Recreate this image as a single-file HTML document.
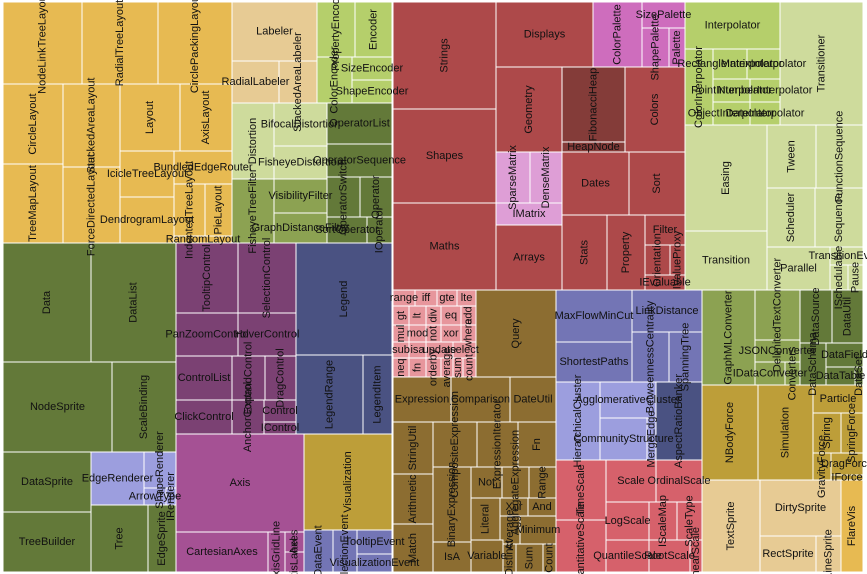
<!DOCTYPE html>
<html><head><meta charset="utf-8"><style>
html,body{margin:0;padding:0;background:#fff;width:867px;height:574px;overflow:hidden}
svg{display:block}
text{font-family:"Liberation Sans",sans-serif;font-size:11px;fill:#111}
</style></head><body>
<svg id="tm" width="867" height="574" viewBox="0 0 867 574">
<g id="rects"></g>
<g id="labels"></g>
</svg>
<script>
// Each cell: label, left, top, right, bottom, group colour
const cells=[
["NodeLinkTreeLayout",3,2,82,84,"#E7BA52"],["RadialTreeLayout",82,2,158,84,"#E7BA52"],["CirclePackingLayout",158,2,232,84,"#E7BA52"],
["CircleLayout",3,84,63,164,"#E7BA52"],["TreeMapLayout",3,164,63,243,"#E7BA52"],
["StackedAreaLayout",63,84,120,167,"#E7BA52"],["ForceDirectedLayout",63,167,120,243,"#E7BA52"],
["Layout",120,84,180,151,"#E7BA52"],["AxisLayout",180,84,232,151,"#E7BA52"],
["IcicleTreeLayout",120,151,174,197,"#E7BA52"],["DendrogramLayout",120,197,174,243,"#E7BA52"],
["BundledEdgeRouter",174,151,232,184,"#E7BA52"],["IndentedTreeLayout",174,184,205,236,"#E7BA52"],["PieLayout",205,184,232,236,"#E7BA52"],["RandomLayout",174,236,232,243,"#E7BA52"],
["Labeler",232,2,317,61,"#E7CB94"],["RadialLabeler",232,61,279,103,"#E7CB94"],["StackedAreaLabeler",279,61,317,103,"#E7CB94"],
["PropertyEncoder",317,2,355,57,"#B5CF6B"],["Encoder",355,2,392,57,"#B5CF6B"],["ColorEncoder",317,57,352,103,"#B5CF6B"],["SizeEncoder",352,57,392,80,"#B5CF6B"],["ShapeEncoder",352,80,392,103,"#B5CF6B"],
["Distortion",232,103,274,179,"#CEDB9C"],["BifocalDistortion",274,103,327,146,"#CEDB9C"],["FisheyeDistortion",274,146,327,179,"#CEDB9C"],
["FisheyeTreeFilter",232,179,274,243,"#8CA252"],["VisibilityFilter",274,179,327,213,"#8CA252"],["GraphDistanceFilter",274,213,327,243,"#8CA252"],
["OperatorList",327,103,392,144,"#637939"],["OperatorSequence",327,144,392,177,"#637939"],["OperatorSwitch",327,177,360,217,"#637939"],["Operator",360,177,392,217,"#637939"],["SortOperator",327,217,367,243,"#637939"],["IOperator",367,217,392,243,"#637939"],
["Data",3,243,91,362,"#637939"],["DataList",91,243,176,362,"#637939"],["NodeSprite",3,362,112,452,"#637939"],["ScaleBinding",112,362,176,452,"#637939"],["DataSprite",3,452,91,512,"#637939"],["TreeBuilder",3,512,91,572,"#637939"],
["EdgeRenderer",91,452,144,505,"#9C9EDE"],["ShapeRenderer",144,452,176,488,"#9C9EDE"],["ArrowType",144,488,166,505,"#9C9EDE"],["IRenderer",166,488,176,505,"#9C9EDE"],
["Tree",91,505,148,572,"#637939"],["EdgeSprite",148,505,176,572,"#637939"],
["TooltipControl",176,243,238,313,"#7B4173"],["SelectionControl",238,243,296,313,"#7B4173"],["PanZoomControl",176,313,238,356,"#7B4173"],["HoverControl",238,313,296,356,"#7B4173"],
["ControlList",176,356,232,400,"#7B4173"],["ClickControl",176,400,232,434,"#7B4173"],["ExpandControl",232,356,265,400,"#7B4173"],["DragControl",265,356,296,400,"#7B4173"],["AnchorControl",232,400,264,434,"#7B4173"],["Control",264,400,296,422,"#7B4173"],["IControl",264,422,296,434,"#7B4173"],
["Legend",296,243,392,355,"#4A5282"],["LegendRange",296,355,363,434,"#4A5282"],["LegendItem",363,355,392,434,"#4A5282"],
["Axis",176,434,304,532,"#A55194"],["CartesianAxes",176,532,268,572,"#A55194"],["AxisGridLine",268,532,285,572,"#A55194"],["Axes",285,532,304,552,"#A55194"],["AxisLabel",285,552,304,572,"#A55194"],
["Visualization",304,434,392,530,"#BD9E39"],["DataEvent",304,530,333,572,"#7375B5"],["SelectionEvent",333,530,357,572,"#7375B5"],["TooltipEvent",357,530,392,554,"#7375B5"],["VisualizationEvent",357,554,392,572,"#7375B5"],
["Strings",393,2,496,109,"#AD494A"],["Shapes",393,109,496,203,"#AD494A"],["Maths",393,203,496,290,"#AD494A"],
["Displays",496,2,593,67,"#AD494A"],["Geometry",496,67,562,152,"#AD494A"],
["SparseMatrix",496,152,530,203,"#DE9ED6"],["DenseMatrix",530,152,562,203,"#DE9ED6"],["IMatrix",496,203,562,225,"#DE9ED6"],["Arrays",496,225,562,290,"#AD494A"],
["FibonacciHeap",562,67,625,142,"#843C39"],["HeapNode",562,142,625,152,"#843C39"],["Colors",625,67,685,152,"#AD494A"],
["ColorPalette",593,2,642,67,"#CE6DBD"],["SizePalette",642,2,685,28,"#CE6DBD"],["ShapePalette",642,28,669,67,"#CE6DBD"],["Palette",669,28,685,67,"#CE6DBD"],
["Dates",562,152,629,215,"#AD494A"],["Sort",629,152,685,215,"#AD494A"],["Stats",562,215,607,290,"#AD494A"],["Property",607,215,645,290,"#AD494A"],["Filter",645,215,685,245,"#AD494A"],["Orientation",645,245,670,275,"#AD494A"],["IValueProxy",670,245,685,275,"#AD494A"],["IEvaluable",645,275,685,290,"#AD494A"],
["Interpolator",685,2,780,49,"#B5CF6B"],["ColorInterpolator",685,49,713,125,"#B5CF6B"],["RectangleInterpolator",713,49,747,79,"#B5CF6B"],["MatrixInterpolator",747,49,780,79,"#B5CF6B"],["PointInterpolator",713,79,750,102,"#B5CF6B"],["NumberInterpolator",750,79,780,102,"#B5CF6B"],["ObjectInterpolator",713,102,750,125,"#B5CF6B"],["DateInterpolator",750,102,780,125,"#B5CF6B"],
["Transitioner",780,2,863,125,"#CEDB9C"],["Easing",685,125,767,231,"#CEDB9C"],["Transition",685,231,767,290,"#CEDB9C"],["Tween",767,125,816,188,"#CEDB9C"],["FunctionSequence",816,125,863,188,"#CEDB9C"],["Scheduler",767,188,815,247,"#CEDB9C"],["Sequence",815,188,863,247,"#CEDB9C"],["Parallel",767,247,830,290,"#CEDB9C"],["TransitionEvent",830,247,863,265,"#CEDB9C"],["ISchedulable",830,265,848,290,"#CEDB9C"],["Pause",848,265,863,290,"#CEDB9C"],
["range",393,290,415,306,"#E7969C"],["iff",415,290,437,306,"#E7969C"],["gte",437,290,457,306,"#E7969C"],["lte",457,290,476,306,"#E7969C"],
["gt",393,306,409,325,"#E7969C"],["lt",409,306,426,325,"#E7969C"],["div",426,306,441,325,"#E7969C"],["eq",441,306,461,325,"#E7969C"],["add",461,306,476,325,"#E7969C"],
["mul",393,325,409,342,"#E7969C"],["mod",409,325,426,342,"#E7969C"],["not",426,325,441,342,"#E7969C"],["xor",441,325,461,342,"#E7969C"],["where",461,325,476,342,"#E7969C"],
["sub",393,342,409,358,"#E7969C"],["isa",409,342,426,358,"#E7969C"],["update",426,342,453,358,"#E7969C"],["select",453,342,476,358,"#E7969C"],
["neq",393,358,409,377,"#E7969C"],["fn",409,358,426,377,"#E7969C"],["orderby",426,358,441,377,"#E7969C"],["average",441,358,453,377,"#E7969C"],["sum",453,358,463,377,"#E7969C"],["count",463,358,476,377,"#E7969C"],
["Query",476,290,556,377,"#8C6D31"],["Expression",393,377,451,422,"#8C6D31"],["Comparison",451,377,510,422,"#8C6D31"],["DateUtil",510,377,556,422,"#8C6D31"],
["StringUtil",393,422,433,474,"#8C6D31"],["CompositeExpression",433,422,477,467,"#8C6D31"],["ExpressionIterator",477,422,518,467,"#8C6D31"],["Fn",518,422,556,467,"#8C6D31"],
["Arithmetic",393,474,433,524,"#8C6D31"],["Match",393,524,433,572,"#8C6D31"],["BinaryExpression",433,467,471,542,"#8C6D31"],["IsA",433,542,471,572,"#8C6D31"],
["Not",471,467,502,498,"#8C6D31"],["AggregateExpression",502,467,529,498,"#8C6D31"],["Range",529,467,556,498,"#8C6D31"],
["Literal",471,498,500,540,"#8C6D31"],["Xor",500,498,528,516,"#8C6D31"],["And",528,498,556,516,"#8C6D31"],["Average",500,516,520,544,"#8C6D31"],["Minimum",520,516,556,544,"#8C6D31"],
["Variable",471,540,503,572,"#8C6D31"],["Distinct",503,544,516,572,"#8C6D31"],["Sum",516,544,543,572,"#8C6D31"],["Count",543,544,556,572,"#8C6D31"],
["MaxFlowMinCut",556,290,632,342,"#7375B5"],["ShortestPaths",556,342,632,382,"#7375B5"],["LinkDistance",632,290,702,332,"#7375B5"],["BetweennessCentrality",632,332,669,382,"#7375B5"],["SpanningTree",669,332,702,382,"#7375B5"],
["HierarchicalCluster",556,382,600,460,"#9C9EDE"],["AgglomerativeCluster",600,382,656,418,"#9C9EDE"],["CommunityStructure",600,418,647,460,"#9C9EDE"],["MergeEdge",647,418,656,460,"#9C9EDE"],["AspectRatioBanker",656,382,702,460,"#4A5282"],
["TimeScale",556,460,606,520,"#D6616B"],["QuantitativeScale",556,520,606,572,"#D6616B"],["Scale",606,460,656,502,"#D6616B"],["OrdinalScale",656,460,702,502,"#D6616B"],["LogScale",606,502,649,540,"#D6616B"],["IScaleMap",649,502,677,540,"#D6616B"],["ScaleType",677,502,702,540,"#D6616B"],["QuantileScale",606,540,649,572,"#D6616B"],["RootScale",649,540,690,572,"#D6616B"],["LinearScale",690,540,702,572,"#D6616B"],
["GraphMLConverter",702,290,755,385,"#8CA252"],["DelimitedTextConverter",755,290,800,340,"#8CA252"],["JSONConverter",755,340,800,362,"#8CA252"],["IDataConverter",755,362,785,385,"#8CA252"],["Converters",785,362,800,385,"#8CA252"],
["DataSource",800,290,832,343,"#637939"],["DataUtil",832,290,863,343,"#637939"],["DataSchema",800,343,826,385,"#637939"],["DataField",826,343,863,367,"#637939"],["DataTable",826,367,855,385,"#637939"],["DataSet",855,367,863,385,"#637939"],
["NBodyForce",702,385,758,480,"#BD9E39"],["Simulation",758,385,813,480,"#BD9E39"],["Particle",813,385,863,413,"#BD9E39"],["Spring",813,413,841,453,"#BD9E39"],["SpringForce",841,413,863,453,"#BD9E39"],["GravityForce",813,453,831,480,"#BD9E39"],["DragForce",831,453,863,475,"#BD9E39"],["IForce",831,475,863,480,"#BD9E39"],
["TextSprite",702,480,760,572,"#E7CB94"],["DirtySprite",760,480,841,536,"#E7CB94"],["RectSprite",760,536,816,572,"#E7CB94"],["LineSprite",816,536,841,572,"#E7CB94"],["FlareVis",841,480,863,572,"#E7BA52"]
];
const NS='http://www.w3.org/2000/svg';
const rg=document.getElementById('rects');
const lg=document.getElementById('labels');
cells.forEach(c=>{
  const [lab,x0,y0,x1,y1,col]=c;
  const w=x1-x0,h=y1-y0;
  const r=document.createElementNS(NS,'rect');
  
  
  r.setAttribute('x',x0);r.setAttribute('y',y0);r.setAttribute('width',w);r.setAttribute('height',h);
  r.setAttribute('fill',col);r.setAttribute('stroke','#fff');r.setAttribute('stroke-width','1');
  rg.appendChild(r);
});
cells.forEach(c=>{
  const [lab,x0,y0,x1,y1]=c;
  const w=x1-x0,h=y1-y0;
  const t=document.createElementNS(NS,'text');
  
  
  const cx=x0+w/2,cy=y0+h/2;
  t.setAttribute('x',cx);t.setAttribute('y',cy);
  t.setAttribute('text-anchor','middle');t.setAttribute('dominant-baseline','central');
  if(w<h) t.setAttribute('transform','rotate(-90 '+cx+' '+cy+')');
  t.textContent=lab;
  lg.appendChild(t);
});
</script>
</body></html>
